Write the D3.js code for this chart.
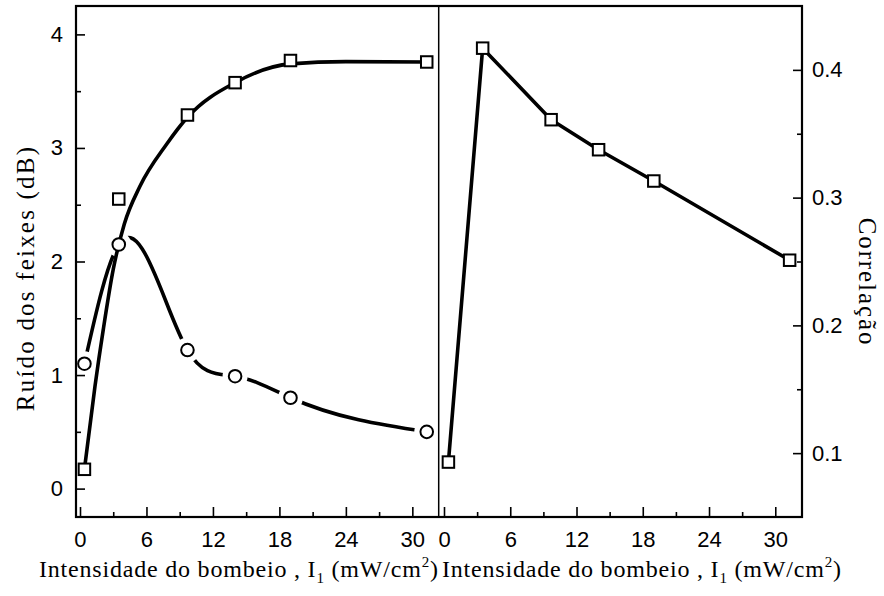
<!DOCTYPE html>
<html>
<head>
<meta charset="utf-8">
<script src="https://cdn.jsdelivr.net/npm/d3@7"></script>
<style>
  html, body { margin: 0; padding: 0; background: #fff; }
  svg { display: block; }
  .tick text { font-family: "Liberation Sans", Arial, sans-serif; fill: #000; }
  .title { font-family: "Liberation Serif", "Times New Roman", serif; fill: #000; }
</style>
</head>
<body>
<svg id="chart" width="884" height="596"></svg>
<script>
// Pump intensity (mW/cm^2) of each measurement
const intensity = [0.4, 3.5, 9.7, 14, 19, 31.3];
// Beam noise (dB): squares and circles
const noiseSquares = [0.17, 2.55, 3.29, 3.575, 3.77, 3.757];
const noiseCircles = [1.1, 2.15, 1.22, 0.99, 0.80, 0.50];
// Fitted saturation curve drawn over the squares
const fitIntensity = [0.4, 1.35, 2.1, 3.0, 4.0, 5.4, 7.8, 9.7, 14, 19, 24, 31.3];
const fitNoise = [0.17, 0.9, 1.4, 1.93, 2.33, 2.66, 3.03, 3.27, 3.575, 3.74, 3.76, 3.757];
// Correlation between beams
const correlation = [0.093, 0.417, 0.361, 0.3375, 0.313, 0.251];

// Tick values
const xMajor = [0, 6, 12, 18, 24, 30];
const xMinor = [3, 9, 15, 21, 27];
const noiseMajor = [0, 1, 2, 3, 4];
const noiseMinor = [0.5, 1.5, 2.5, 3.5];
const corrMajor = [0.1, 0.2, 0.3, 0.4];
const corrMinor = [0.15, 0.25, 0.35];

// Natural cubic spline of y as a function of x, for d3.line
function NaturalX(context) { this._context = context; }
NaturalX.prototype = {
  areaStart() {}, areaEnd() {},
  lineStart() { this._x = []; this._y = []; },
  point(x, y) { this._x.push(+x); this._y.push(+y); },
  lineEnd() {
    const x = this._x, y = this._y, n = x.length, ctx = this._context;
    if (!n) return;
    ctx.moveTo(x[0], y[0]);
    if (n === 2) { ctx.lineTo(x[1], y[1]); return; }
    const h = [], s = [];
    for (let i = 0; i < n - 1; i++) { h.push(x[i + 1] - x[i]); s.push((y[i + 1] - y[i]) / h[i]); }
    // second derivatives, zero at both ends (tridiagonal solve)
    const M = new Array(n).fill(0);
    const m = n - 2, a = [], b = [], c = [], r = [];
    for (let k = 0; k < m; k++) {
      const i = k + 1;
      a.push(h[i - 1]); b.push(2 * (h[i - 1] + h[i])); c.push(h[i]);
      r.push(6 * (s[i] - s[i - 1]));
    }
    for (let k = 1; k < m; k++) {
      const w = a[k] / b[k - 1];
      b[k] -= w * c[k - 1]; r[k] -= w * r[k - 1];
    }
    M[m] = r[m - 1] / b[m - 1];
    for (let k = m - 2; k >= 0; k--) M[k + 1] = (r[k] - c[k] * M[k + 2]) / b[k];
    for (let i = 0; i < n - 1; i++) {
      const d0 = s[i] - h[i] * (2 * M[i] + M[i + 1]) / 6;
      const d1 = s[i] + h[i] * (M[i] + 2 * M[i + 1]) / 6;
      ctx.bezierCurveTo(
        x[i] + h[i] / 3, y[i] + d0 * h[i] / 3,
        x[i + 1] - h[i] / 3, y[i + 1] - d1 * h[i] / 3,
        x[i + 1], y[i + 1]);
    }
  }
};
const curveNaturalX = ctx => new NaturalX(ctx);

const svg = d3.select("#chart");

const plotLeft = 76, plotMid = 438.7, plotRight = 802, plotTop = 6, plotBottom = 517;

const xL = d3.scaleLinear().domain([-0.361, 32.38]).range([plotLeft, plotMid]);
const xR = d3.scaleLinear().domain([-0.48, 32.42]).range([plotMid, plotRight]);
const yL = d3.scaleLinear().domain([-0.25, 4.25]).range([plotBottom, plotTop]);
const yR = d3.scaleLinear().domain([0.05, 0.45]).range([plotBottom, plotTop]);

const fmt = d => d3.format(".1f")(d);
const tickFont = 22;

// ---- axes (ticks point inward) ----
function styleAxis(g) {
  g.select(".domain").remove();
  g.selectAll(".tick line").attr("stroke", "#000").attr("stroke-width", 1.6);
  g.selectAll(".tick text").attr("font-size", tickFont);
}

// bottom axes
[xL, xR].forEach(sx => {
  svg.append("g").attr("transform", `translate(0,${plotBottom})`)
    .call(d3.axisBottom(sx).tickValues(xMajor).tickSize(-10).tickPadding(14).tickFormat(d3.format("d")))
    .call(styleAxis);
  svg.append("g").attr("transform", `translate(0,${plotBottom})`)
    .call(d3.axisBottom(sx).tickValues(xMinor).tickSize(-5).tickFormat(""))
    .call(styleAxis);
});

// left noise axis
svg.append("g").attr("transform", `translate(${plotLeft},0)`)
  .call(d3.axisLeft(yL).tickValues(noiseMajor).tickSize(-9).tickPadding(13).tickFormat(d3.format("d")))
  .call(styleAxis);
svg.append("g").attr("transform", `translate(${plotLeft},0)`)
  .call(d3.axisLeft(yL).tickValues(noiseMinor).tickSize(-5).tickFormat(""))
  .call(styleAxis);

// right correlation axis
svg.append("g").attr("transform", `translate(${plotRight},0)`)
  .call(d3.axisRight(yR).tickValues(corrMajor).tickSize(-9).tickPadding(10).tickFormat(fmt))
  .call(styleAxis);
svg.append("g").attr("transform", `translate(${plotRight},0)`)
  .call(d3.axisRight(yR).tickValues(corrMinor).tickSize(-5).tickFormat(""))
  .call(styleAxis);

// ---- frame and panel divider ----
svg.append("rect")
  .attr("x", plotLeft).attr("y", plotTop)
  .attr("width", plotRight - plotLeft).attr("height", plotBottom - plotTop)
  .attr("fill", "none").attr("stroke", "#000").attr("stroke-width", 2.2);
svg.append("line")
  .attr("x1", plotMid).attr("x2", plotMid).attr("y1", plotTop).attr("y2", plotBottom)
  .attr("stroke", "#000").attr("stroke-width", 1.5);

// ---- left panel: noise ----
const fitLine = d3.line()
  .x((d, i) => xL(fitIntensity[i]))
  .y(d => yL(d))
  .curve(d3.curveMonotoneX);
svg.append("path")
  .attr("d", fitLine(fitNoise))
  .attr("fill", "none").attr("stroke", "#000").attr("stroke-width", 3.6)
  .attr("stroke-linejoin", "round");

// circle series spline, broken around each marker
const defs = svg.append("defs");
const mask = defs.append("mask").attr("id", "circleGaps")
  .attr("maskUnits", "userSpaceOnUse")
  .attr("x", 0).attr("y", 0).attr("width", 884).attr("height", 596);
mask.append("rect").attr("width", 884).attr("height", 596).attr("fill", "#fff");
mask.selectAll("circle").data(noiseCircles).join("circle")
  .attr("cx", (d, i) => xL(intensity[i]))
  .attr("cy", d => yL(d))
  .attr("r", 12.5)
  .attr("fill", "#000");

const circleLine = d3.line()
  .x((d, i) => xL(intensity[i]))
  .y(d => yL(d))
  .curve(curveNaturalX);
svg.append("path")
  .attr("d", circleLine(noiseCircles))
  .attr("mask", "url(#circleGaps)")
  .attr("fill", "none").attr("stroke", "#000").attr("stroke-width", 3.6)
  .attr("stroke-linecap", "round");

const sq = 11.5;
svg.append("g").selectAll("rect").data(noiseSquares).join("rect")
  .attr("x", (d, i) => xL(intensity[i]) - sq / 2)
  .attr("y", d => yL(d) - sq / 2)
  .attr("width", sq).attr("height", sq)
  .attr("fill", "#fff").attr("stroke", "#000").attr("stroke-width", 2);

svg.append("g").selectAll("circle").data(noiseCircles).join("circle")
  .attr("cx", (d, i) => xL(intensity[i]))
  .attr("cy", d => yL(d))
  .attr("r", 6.3)
  .attr("fill", "#fff").attr("stroke", "#000").attr("stroke-width", 2);

// ---- right panel: correlation ----
const corrLine = d3.line()
  .x((d, i) => xR(intensity[i]))
  .y(d => yR(d));
svg.append("path")
  .attr("d", corrLine(correlation))
  .attr("fill", "none").attr("stroke", "#000").attr("stroke-width", 3.6)
  .attr("stroke-linejoin", "round");
svg.append("g").selectAll("rect").data(correlation).join("rect")
  .attr("x", (d, i) => xR(intensity[i]) - sq / 2)
  .attr("y", d => yR(d) - sq / 2)
  .attr("width", sq).attr("height", sq)
  .attr("fill", "#fff").attr("stroke", "#000").attr("stroke-width", 2);

// ---- titles ----
function xTitle(x) {
  const t = svg.append("text").attr("class", "title")
    .attr("x", x).attr("y", 577).attr("font-size", 24)
    .attr("letter-spacing", 0.8);
  t.append("tspan").text("Intensidade do bombeio , I");
  t.append("tspan").attr("dy", 6).attr("font-size", 15).text("1");
  t.append("tspan").attr("dy", -6).text(" (mW/cm");
  t.append("tspan").attr("dy", -10).attr("font-size", 15).text("2");
  t.append("tspan").attr("dy", 10).text(")");
}
xTitle(39);
xTitle(442);

svg.append("text").attr("class", "title")
  .attr("transform", "translate(34,278) rotate(-90)")
  .attr("text-anchor", "middle").attr("font-size", 25)
  .attr("letter-spacing", 2.2)
  .text("Ruído dos feixes (dB)");

svg.append("text").attr("class", "title")
  .attr("transform", "translate(859,282) rotate(90)")
  .attr("text-anchor", "middle").attr("font-size", 25)
  .attr("letter-spacing", 1.9)
  .text("Correlação");
</script>
</body>
</html>
